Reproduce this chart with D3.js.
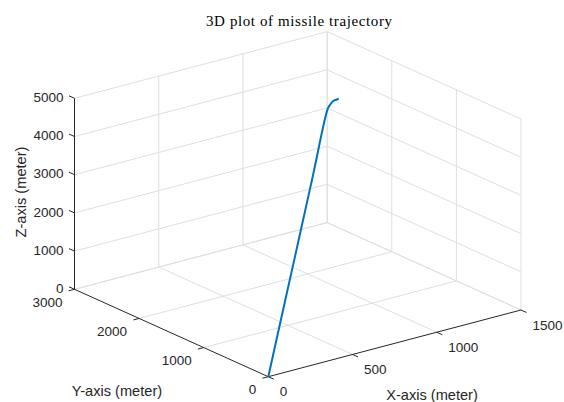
<!DOCTYPE html>
<html>
<head>
<meta charset="utf-8">
<script src="https://cdn.jsdelivr.net/npm/d3@7"></script>
<style>
  body { margin: 0; background: #fff; }
  text { font-family: "Liberation Sans", Arial, sans-serif; fill: #262626; }
</style>
</head>
<body>
<div id="chart"></div>
<script>
// axis limits and ticks
const xLim = [0, 1500],
      yLim = [0, 3000],
      zLim = [0, 5000]
const xTicks = [0, 500, 1000, 1500],
      yTicks = [0, 1000, 2000, 3000],
      zTicks = [0, 1000, 2000, 3000, 4000, 5000]

// missile trajectory samples (meter)
const trajX = [0, 282, 565, 847, 1129, 1162, 1203, 1240],
      trajY = [0, 506, 1013, 1519, 2025, 2077, 2132, 2143],
      trajZ = [0, 1038, 2075, 3113, 4150, 4175, 4190, 4200]

const width = 564,
      height = 402

// box edges on screen (view az -37.5, el ~20)
const origin = [268.3, 376.7],
      xVec = [252.7, -66.7],
      yVec = [-193.8, -87.4],
      zLen = 191

const xScale = d3.scaleLinear().domain(xLim).range([0, 1]),
      yScale = d3.scaleLinear().domain(yLim).range([0, 1]),
      zScale = d3.scaleLinear().domain(zLim).range([0, zLen])

function project(x, y, z) {
  const u = xScale(x), v = yScale(y)
  return [
    origin[0] + u * xVec[0] + v * yVec[0],
    origin[1] + u * xVec[1] + v * yVec[1] - zScale(z)
  ]
}

const svg = d3.select('#chart')
              .append('svg')
              .attr('width', width)
              .attr('height', height)

// grid lines: floor + two back walls
const grid = []
xTicks.forEach(function(x) {
  if (x !== xLim[0]) grid.push([[x, yLim[0], 0], [x, yLim[1], 0]])
  if (x !== xLim[0]) grid.push([[x, yLim[1], zLim[0]], [x, yLim[1], zLim[1]]])
})
yTicks.forEach(function(y) {
  if (y !== yLim[0]) grid.push([[xLim[0], y, 0], [xLim[1], y, 0]])
  grid.push([[xLim[1], y, zLim[0]], [xLim[1], y, zLim[1]]])
})
zTicks.forEach(function(z) {
  grid.push([[xLim[0], yLim[1], z], [xLim[1], yLim[1], z]])
  grid.push([[xLim[1], yLim[0], z], [xLim[1], yLim[1], z]])
})

svg.append('g')
   .selectAll('line')
   .data(grid)
   .enter()
   .append('line')
   .attr('x1', function(d) { return project(...d[0])[0] })
   .attr('y1', function(d) { return project(...d[0])[1] })
   .attr('x2', function(d) { return project(...d[1])[0] })
   .attr('y2', function(d) { return project(...d[1])[1] })
   .attr('stroke', '#dfdfdf')
   .attr('stroke-width', 1)

// axis lines
const axes = [
  [[xLim[0], yLim[0], 0], [xLim[1], yLim[0], 0]],
  [[xLim[0], yLim[0], 0], [xLim[0], yLim[1], 0]],
  [[xLim[0], yLim[1], zLim[0]], [xLim[0], yLim[1], zLim[1]]]
]
svg.append('g')
   .selectAll('line')
   .data(axes)
   .enter()
   .append('line')
   .attr('x1', function(d) { return project(...d[0])[0] })
   .attr('y1', function(d) { return project(...d[0])[1] })
   .attr('x2', function(d) { return project(...d[1])[0] })
   .attr('y2', function(d) { return project(...d[1])[1] })
   .attr('stroke', '#262626')
   .attr('stroke-width', 1)

// ticks: direction unit vectors on screen
const tickLen = 6
function unit(v) { const l = Math.hypot(v[0], v[1]); return [v[0] / l, v[1] / l] }
const xDir = unit(xVec), yDir = unit(yVec)

function drawTicks(points, dir) {
  svg.append('g')
     .selectAll('line')
     .data(points)
     .enter()
     .append('line')
     .attr('x1', function(d) { return d[0] })
     .attr('y1', function(d) { return d[1] })
     .attr('x2', function(d) { return d[0] + dir[0] * tickLen })
     .attr('y2', function(d) { return d[1] + dir[1] * tickLen })
     .attr('stroke', '#262626')
     .attr('stroke-width', 1)
}
drawTicks(xTicks.map(function(x) { return project(x, yLim[0], 0) }), [-yDir[0], -yDir[1]])
drawTicks(yTicks.map(function(y) { return project(xLim[0], y, 0) }), [-xDir[0], -xDir[1]])
drawTicks(zTicks.map(function(z) { return project(xLim[0], yLim[1], z) }), yDir)

// tick labels
svg.append('g')
   .selectAll('text')
   .data(xTicks)
   .enter()
   .append('text')
   .attr('x', function(d) { return project(d, yLim[0], 0)[0] + 11.5 })
   .attr('y', function(d) { return project(d, yLim[0], 0)[1] + 15 })
   .attr('dy', '0.35em')
   .attr('font-size', 13.5)
   .text(function(d) { return d })

svg.append('g')
   .selectAll('text')
   .data(yTicks)
   .enter()
   .append('text')
   .attr('x', function(d) { return project(xLim[0], d, 0)[0] - 12 })
   .attr('y', function(d) { return project(xLim[0], d, 0)[1] + 13 })
   .attr('dy', '0.35em')
   .attr('text-anchor', 'end')
   .attr('font-size', 13.5)
   .text(function(d) { return d })

svg.append('g')
   .selectAll('text')
   .data(zTicks)
   .enter()
   .append('text')
   .attr('x', function(d) { return project(xLim[0], yLim[1], d)[0] - 11 })
   .attr('y', function(d) { return project(xLim[0], yLim[1], d)[1] - 1 })
   .attr('dy', '0.35em')
   .attr('text-anchor', 'end')
   .attr('font-size', 13.5)
   .text(function(d) { return d })

// axis labels
svg.append('text')
   .attr('x', 432)
   .attr('y', 394.5)
   .attr('dy', '0.35em')
   .attr('text-anchor', 'middle')
   .attr('font-size', 14.6)
   .text('X-axis (meter)')

svg.append('text')
   .attr('x', 117)
   .attr('y', 391)
   .attr('dy', '0.35em')
   .attr('text-anchor', 'middle')
   .attr('font-size', 14.6)
   .text('Y-axis (meter)')

svg.append('text')
   .attr('transform', 'translate(21, 192) rotate(-90)')
   .attr('dy', '0.35em')
   .attr('text-anchor', 'middle')
   .attr('font-size', 14.6)
   .text('Z-axis (meter)')

// title
svg.append('text')
   .attr('x', 299)
   .attr('y', 26)
   .attr('text-anchor', 'middle')
   .attr('font-size', 15)
   .attr('textLength', 186)
   .attr('lengthAdjust', 'spacing')
   .style('font-family', '"Liberation Serif", "DejaVu Serif", serif')
   .style('fill', '#000')
   .text('3D plot of missile trajectory')

// trajectory
const pts = trajX.map(function(x, i) { return project(x, trajY[i], trajZ[i]) })
svg.append('path')
   .datum(pts)
   .attr('d', d3.line().curve(d3.curveCatmullRom.alpha(0.5)))
   .attr('fill', 'none')
   .attr('stroke', '#0072BD')
   .attr('stroke-width', 2)
</script>
</body>
</html>
